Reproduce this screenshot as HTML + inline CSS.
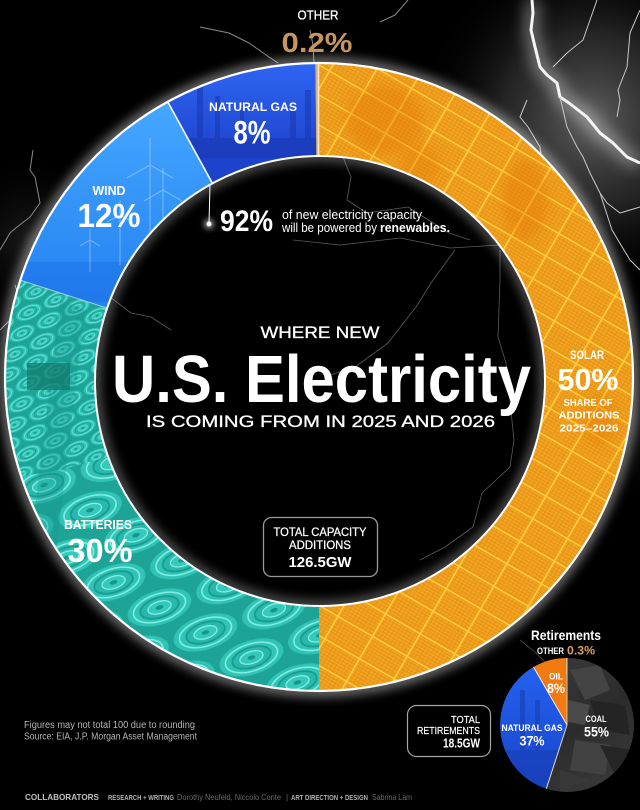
<!DOCTYPE html>
<html><head><meta charset="utf-8"><style>
html,body{margin:0;padding:0;background:#000;width:640px;height:810px;overflow:hidden;}
svg{display:block;overflow:hidden;}
text{font-family:"Liberation Sans",sans-serif;}
</style></head><body>
<svg width="640" height="810" viewBox="0 0 640 810" xmlns="http://www.w3.org/2000/svg">
<defs>
  <filter id="blur6" x="-30%" y="-30%" width="160%" height="160%"><feGaussianBlur stdDeviation="6"/></filter>
  <filter id="blur3" x="-50%" y="-50%" width="200%" height="200%"><feGaussianBlur stdDeviation="3"/></filter>
  <filter id="blur5" x="-50%" y="-50%" width="200%" height="200%"><feGaussianBlur stdDeviation="5"/></filter>
  <filter id="blur8" x="-50%" y="-50%" width="200%" height="200%"><feGaussianBlur stdDeviation="8"/></filter>
  <radialGradient id="haze" cx="590" cy="120" r="175" gradientUnits="userSpaceOnUse">
    <stop offset="0" stop-color="#6a6a6a" stop-opacity="0.9"/>
    <stop offset="0.5" stop-color="#3c3c3c" stop-opacity="0.6"/>
    <stop offset="1" stop-color="#000" stop-opacity="0"/>
  </radialGradient>
  <radialGradient id="haze2" cx="30" cy="240" r="90" gradientUnits="userSpaceOnUse">
    <stop offset="0" stop-color="#2e2e2e" stop-opacity="0.6"/>
    <stop offset="1" stop-color="#000" stop-opacity="0"/>
  </radialGradient>
  <radialGradient id="haze3" cx="625" cy="420" r="90" gradientUnits="userSpaceOnUse">
    <stop offset="0" stop-color="#2e2e2e" stop-opacity="0.6"/>
    <stop offset="1" stop-color="#000" stop-opacity="0"/>
  </radialGradient>
  <linearGradient id="windg" x1="0" y1="100" x2="0" y2="300" gradientUnits="userSpaceOnUse">
    <stop offset="0" stop-color="#45a8ff"/>
    <stop offset="1" stop-color="#2482f2"/>
  </linearGradient>
  <linearGradient id="gasg" x1="0" y1="60" x2="0" y2="160" gradientUnits="userSpaceOnUse">
    <stop offset="0" stop-color="#2f66f2"/>
    <stop offset="1" stop-color="#1d42cc"/>
  </linearGradient>
  <linearGradient id="pgas" x1="0" y1="660" x2="0" y2="790" gradientUnits="userSpaceOnUse">
    <stop offset="0" stop-color="#2563f0"/>
    <stop offset="1" stop-color="#1745c8"/>
  </linearGradient>
  <linearGradient id="pcoal" x1="540" y1="660" x2="620" y2="790" gradientUnits="userSpaceOnUse">
    <stop offset="0" stop-color="#3a3a3a"/>
    <stop offset="0.5" stop-color="#2c2c2c"/>
    <stop offset="1" stop-color="#3a3a3a"/>
  </linearGradient>
  <pattern id="solp" width="40" height="26" patternUnits="userSpaceOnUse" patternTransform="rotate(30)">
    <rect width="40" height="26" fill="#ec9a18"/>
    <path d="M0 3.25H40M0 6.5H40M0 9.75H40M0 13H40M0 16.25H40M0 19.5H40M0 22.75H40" stroke="#f5b035" stroke-width="0.7"/>
    <path d="M4 0V26M8 0V26M12 0V26M16 0V26M20 0V26M24 0V26M28 0V26M32 0V26M36 0V26" stroke="#e58e12" stroke-width="0.6"/>
    <path d="M0 0.8H40M0.8 0V26" stroke="#ffcc3a" stroke-width="1.6"/>
  </pattern>
  <g id="cell">
    <ellipse rx="33" ry="17" fill="#2fc4b6"/>
    <ellipse rx="27" ry="13.5" fill="none" stroke="#86eee2" stroke-width="1.6"/>
    <ellipse rx="20" ry="10" fill="#28b9ac" stroke="#1a998e" stroke-width="1.8"/>
    <ellipse rx="12" ry="6" fill="#33cabc" stroke="#90f2e7" stroke-width="1.2"/>
    <ellipse rx="4" ry="2" fill="#1a9489"/>
  </g>
  <pattern id="batp" width="72" height="76" patternUnits="userSpaceOnUse" patternTransform="rotate(-18)">
    <rect width="72" height="76" fill="#1ea397"/>
    <use href="#cell" x="36" y="19"/>
    <use href="#cell" x="0" y="57"/>
    <use href="#cell" x="72" y="57"/>
  </pattern>
  <pattern id="batp2" width="72" height="76" patternUnits="userSpaceOnUse" patternTransform="rotate(-25) scale(0.42)">
    <rect width="72" height="76" fill="#1ea397"/>
    <use href="#cell" x="36" y="19"/>
    <use href="#cell" x="0" y="57"/>
    <use href="#cell" x="72" y="57"/>
  </pattern>
  <clipPath id="ring"><path clip-rule="evenodd" d="M5,377 a314,314 0 1,0 628,0 a314,314 0 1,0 -628,0 Z M95,381 a225,225 0 1,0 450,0 a225,225 0 1,0 -450,0 Z"/></clipPath>
  <clipPath id="windc"><polygon points="319,377 0,273.4 0,0 111.7,0"/></clipPath>
  <clipPath id="gasc"><polygon points="319,377 111.7,0 314.4,0"/></clipPath>
  <clipPath id="solc"><rect x="319" y="0" width="321" height="810"/></clipPath>
  <clipPath id="batc"><polygon points="319,377 319,810 0,810 0,273.4"/></clipPath>
  <clipPath id="pgasc"><path d="M567,725 L546.3,788.7 A67,67 0 0 1 533.5,667 Z"/></clipPath>
  <clipPath id="pcoalc"><path d="M567,725 L567,658 A67,67 0 1 1 546.3,788.7 Z"/></clipPath>
</defs>

<rect width="640" height="810" fill="#000"/>

<!-- haze -->
<rect x="415" y="0" width="225" height="300" fill="url(#haze)"/>
<rect x="0" y="150" width="120" height="180" fill="url(#haze2)"/>
<rect x="540" y="330" width="100" height="180" fill="url(#haze3)"/>

<!-- hole -->
<circle cx="320" cy="381" r="225" fill="#000"/>

<!-- lightning outside -->
<g fill="none" stroke-linejoin="round">
  <path d="M532,0 L533,13 L531,30 L535,47 L540,67 L547,75 L557,83 L560,97 L569,103 L587,117 L600,133 L613,143 L627,157 L640,163" stroke="#fff" stroke-width="10" opacity="0.55" filter="url(#blur8)"/>
  <path d="M532,0 L533,13 L531,30 L535,47 L540,67 L547,75 L557,83 L560,97 L569,103 L587,117 L600,133 L613,143 L627,157 L640,163" stroke="#f4f4f4" stroke-width="3"/>
  <g stroke="#c8c8c8" stroke-width="1">
    <path d="M553,67 L567,53 L583,40 L590,20 L597,0"/>
    <path d="M640,10 L630,33 L627,67 L618,90 L620,100 L617,117"/>
    <path d="M560,97 L567,127 L577,147 L583,157 L590,173 L600,193 L607,203 L620,213 L640,207"/>
    <path d="M527,100 L520,117 L528,127 L540,147 L543,167"/>
    <path d="M600,193 L612,230 L630,260 L640,270"/>
    <path d="M615,300 L625,330 L620,360 L632,390"/>
  </g>
  <g stroke="#8a8a8a" stroke-width="1">
    <path d="M0,250 L10,233 L17,227 L30,217 L40,203 L35,177 L30,170 L33,150"/>
    <path d="M0,330 L12,318 L20,300 L15,285"/>
    <path d="M200,27 L229,33 L249,43 L269,57 L278,63"/>
    <path d="M310,30 L313,45 L314,63"/>
    <path d="M408,0 L395,15 L380,22"/>
  </g>
  <!-- inside hole -->
  <g stroke="#7a7a7a" stroke-width="0.8" opacity="0.75">
    <path d="M343,157 L351,177 L347,200 L367,213 L408,207 L449,233 L470,240"/>
    <path d="M455,250 L433,280 L416,307 L388,343 L355,367 L330,375"/>
    <path d="M500,250 L500,280 L498,337 L506,363 L514,440 L510,467 L482,493 L473,527 L445,547 L420,560"/>
    <path d="M110,297 L131,313 L151,317 L171,330"/>
    <path d="M293,240 L340,245 L400,238 L450,248 L500,245"/>
  </g>
</g>

<!-- glows -->
<circle cx="319" cy="377" r="314" fill="none" stroke="#fff" stroke-width="6" opacity="0.85" filter="url(#blur6)"/>
<circle cx="320" cy="381" r="225" fill="none" stroke="#fff" stroke-width="5" opacity="0.7" filter="url(#blur6)"/>

<!-- ring segments -->
<g clip-path="url(#ring)">
  <!-- solar -->
  <rect x="319" y="0" width="321" height="810" fill="url(#solp)"/>
  <g clip-path="url(#solc)" filter="url(#blur5)">
    <ellipse cx="385" cy="120" rx="38" ry="34" fill="#e2700a" opacity="0.35"/>
    <ellipse cx="420" cy="165" rx="20" ry="20" fill="#e2700a" opacity="0.3"/>
    <ellipse cx="525" cy="200" rx="22" ry="40" fill="#e2700a" opacity="0.35"/>
    <ellipse cx="600" cy="420" rx="18" ry="25" fill="#e2700a" opacity="0.3"/>
  </g>
  <!-- batteries -->
  <polygon points="319,377 319,810 0,810 0,273.4" fill="url(#batp)"/>
  <g clip-path="url(#batc)">
    <polygon points="0,260 130,300 115,455 60,470 0,480" fill="url(#batp2)"/>
    <polygon points="60,300 85,310 55,560 30,550" fill="#17968b" opacity="0.35"/>
    <rect x="27" y="363" width="43" height="27" fill="#10786a" opacity="0.7"/>
  </g>
  <!-- wind -->
  <polygon points="319,377 0,273.4 0,0 111.7,0" fill="url(#windg)"/>
  <g clip-path="url(#windc)">
    <rect x="0" y="262" width="220" height="40" fill="#1a6be0" opacity="0.4"/>
    <g stroke="#ffffff" stroke-opacity="0.3" stroke-width="1.2" fill="none">
      <path d="M150,165 V250 M150,165 L150,138 M150,165 L127,178 M150,165 L173,178"/>
      <path d="M163,190 V262 M163,190 L163,168 M163,190 L144,201 M163,190 L182,201"/>
      <path d="M120,215 V265 M120,215 L120,200 M120,215 L107,222 M120,215 L133,222"/>
      <path d="M90,240 V272 M90,240 L90,229 M90,240 L80,246 M90,240 L100,246"/>
    </g>
  </g>
  <!-- natural gas -->
  <polygon points="319,377 111.7,0 314.4,0" fill="url(#gasg)"/>
  <g clip-path="url(#gasc)" fill="#1a3ab2" opacity="0.6">
    <rect x="197" y="82" width="6" height="75"/>
    <rect x="215" y="96" width="5" height="60"/>
    <rect x="240" y="105" width="4" height="50"/>
    <rect x="290" y="110" width="6" height="45"/>
    <rect x="305" y="90" width="6" height="65"/>
    <rect x="185" y="138" width="135" height="20"/>
  </g>
  <!-- other -->
  <polygon points="319,377 314.4,0 319,0" fill="#d9b07c"/>
  <!-- separators -->
  <line x1="167.7" y1="101.8" x2="215" y2="188" stroke="#fff" stroke-width="1.6"/>
  <line x1="20" y1="280" x2="110" y2="309" stroke="#e8f4ff" stroke-width="1" opacity="0.6"/>
  <line x1="318.5" y1="55" x2="318.5" y2="160" stroke="#f4e6c8" stroke-width="1.6"/>
</g>

<!-- ring edges -->
<circle cx="319" cy="377" r="314" fill="none" stroke="#fff" stroke-width="2.2"/>
<circle cx="320" cy="381" r="225" fill="none" stroke="#fff" stroke-width="2"/>

<!-- 92% pointer -->
<line x1="210" y1="184" x2="209" y2="224" stroke="#fff" stroke-width="1"/>
<circle cx="209" cy="224" r="5" fill="#fff" opacity="0.6" filter="url(#blur3)"/>
<circle cx="209" cy="224" r="2.5" fill="#fff"/>

<!-- ring texts -->
<g fill="#fff">
  <text x="318" y="19.5" font-size="13" text-anchor="middle" textLength="41" lengthAdjust="spacingAndGlyphs" stroke="#fff" stroke-width="0.3">OTHER</text>
  <text x="317" y="52" font-size="28" font-weight="700" text-anchor="middle" fill="#c8955c" textLength="71" lengthAdjust="spacingAndGlyphs">0.2%</text>
  <text x="253" y="111" font-size="12" font-weight="700" text-anchor="middle" textLength="88" lengthAdjust="spacingAndGlyphs">NATURAL GAS</text>
  <text x="252" y="143.5" font-size="32" font-weight="700" text-anchor="middle" textLength="37" lengthAdjust="spacingAndGlyphs">8%</text>
  <text x="109" y="195" font-size="13" font-weight="700" text-anchor="middle" textLength="33" lengthAdjust="spacingAndGlyphs">WIND</text>
  <text x="109" y="227" font-size="33" font-weight="700" text-anchor="middle" textLength="63" lengthAdjust="spacingAndGlyphs">12%</text>
  <text x="220" y="231" font-size="30" font-weight="700" textLength="53" lengthAdjust="spacingAndGlyphs">92%</text>
  <text x="282" y="219" font-size="13" textLength="140" lengthAdjust="spacingAndGlyphs">of new electricity capacity</text>
  <text x="282" y="232" font-size="13" textLength="95" lengthAdjust="spacingAndGlyphs">will be powered by</text>
  <text x="380" y="232" font-size="13" font-weight="700" textLength="70" lengthAdjust="spacingAndGlyphs">renewables.</text>

  <text x="320" y="338" font-size="17" text-anchor="middle" textLength="119" lengthAdjust="spacingAndGlyphs" stroke="#fff" stroke-width="0.3">WHERE NEW</text>
  <text x="112" y="402" font-size="67" font-weight="700" textLength="419" lengthAdjust="spacingAndGlyphs">U.S. Electricity</text>
  <text x="146" y="427" font-size="17" textLength="349" lengthAdjust="spacingAndGlyphs" stroke="#fff" stroke-width="0.3">IS COMING FROM IN 2025 AND 2026</text>

  <text x="587" y="359" font-size="11.5" font-weight="700" text-anchor="middle" textLength="34" lengthAdjust="spacingAndGlyphs">SOLAR</text>
  <text x="588" y="390" font-size="31" font-weight="700" text-anchor="middle" textLength="61" lengthAdjust="spacingAndGlyphs">50%</text>
  <text x="588" y="406" font-size="10" font-weight="700" text-anchor="middle" textLength="49" lengthAdjust="spacingAndGlyphs">SHARE OF</text>
  <text x="589" y="418.5" font-size="10" font-weight="700" text-anchor="middle" textLength="61" lengthAdjust="spacingAndGlyphs">ADDITIONS</text>
  <text x="589" y="431.5" font-size="10" font-weight="700" text-anchor="middle" textLength="59" lengthAdjust="spacingAndGlyphs">2025–2026</text>

  <text x="98" y="529" font-size="13" font-weight="700" text-anchor="middle" textLength="68" lengthAdjust="spacingAndGlyphs">BATTERIES</text>
  <text x="100" y="562" font-size="33" font-weight="700" text-anchor="middle" textLength="65" lengthAdjust="spacingAndGlyphs">30%</text>
</g>

<!-- total capacity box -->
<rect x="263.5" y="517.5" width="114" height="59" rx="8" fill="#000" stroke="#9a9a9a" stroke-width="1.3"/>
<g fill="#fff" text-anchor="middle">
  <text x="320" y="536" font-size="12" textLength="93" lengthAdjust="spacingAndGlyphs" stroke="#fff" stroke-width="0.25">TOTAL CAPACITY</text>
  <text x="320" y="549" font-size="12" textLength="62" lengthAdjust="spacingAndGlyphs" stroke="#fff" stroke-width="0.25">ADDITIONS</text>
  <text x="320" y="567" font-size="15" font-weight="700" textLength="63" lengthAdjust="spacingAndGlyphs">126.5GW</text>
</g>

<!-- retirements pie -->
<path d="M567,725 L567,658 A67,67 0 1 1 546.3,788.7 Z" fill="url(#pcoal)"/>
<g clip-path="url(#pcoalc)">
  <polygon points="570,670 600,665 610,690 585,700" fill="#444"/>
  <polygon points="590,700 625,705 630,735 600,730" fill="#242424"/>
  <polygon points="575,740 610,745 605,775 570,770" fill="#424242"/>
  <polygon points="600,745 634,750 620,785" fill="#262626"/>
  <polygon points="568,700 590,705 585,725 568,722" fill="#4a4a4a"/>
  <polygon points="560,770 590,780 560,792" fill="#383838"/>
</g>
<path d="M567,725 L546.3,788.7 A67,67 0 0 1 533.5,667 Z" fill="url(#pgas)"/>
<g clip-path="url(#pgasc)" fill="#1a3fb5" opacity="0.6">
  <rect x="520" y="690" width="5" height="80"/>
  <rect x="535" y="700" width="5" height="70"/>
  <rect x="505" y="750" width="55" height="40"/>
</g>
<path d="M567,725 L533.5,667 A67,67 0 0 1 565.8,658 Z" fill="#f27a12"/>
<path d="M567,725 L565.8,658 A67,67 0 0 1 567.5,658 Z" fill="#d9b07c"/>
<line x1="567" y1="725" x2="546.3" y2="788.7" stroke="#ddd" stroke-width="1"/>
<line x1="567" y1="725" x2="533.5" y2="667" stroke="#eee" stroke-width="1"/>
<line x1="567" y1="658" x2="567" y2="725" stroke="#e8c890" stroke-width="1"/>
<path d="M520,640 L535,652 L545,662" stroke="#555" stroke-width="0.8" fill="none"/>

<g fill="#fff">
  <text x="566" y="640" font-size="14" font-weight="700" text-anchor="middle" textLength="70" lengthAdjust="spacingAndGlyphs">Retirements</text>
  <text x="537" y="654" font-size="9" font-weight="700" textLength="27" lengthAdjust="spacingAndGlyphs">OTHER</text>
  <text x="567" y="654.5" font-size="12" font-weight="700" fill="#d9a060" textLength="28" lengthAdjust="spacingAndGlyphs">0.3%</text>
  <text x="556" y="679.5" font-size="9" font-weight="700" text-anchor="middle" textLength="14" lengthAdjust="spacingAndGlyphs">OIL</text>
  <text x="556" y="693" font-size="14" font-weight="700" text-anchor="middle" textLength="18" lengthAdjust="spacingAndGlyphs">8%</text>
  <text x="532" y="731" font-size="9.5" font-weight="700" text-anchor="middle" textLength="61" lengthAdjust="spacingAndGlyphs">NATURAL GAS</text>
  <text x="532" y="745.5" font-size="14" font-weight="700" text-anchor="middle" textLength="25" lengthAdjust="spacingAndGlyphs">37%</text>
  <text x="596" y="722" font-size="9.5" font-weight="700" text-anchor="middle" textLength="21" lengthAdjust="spacingAndGlyphs">COAL</text>
  <text x="596.5" y="736.5" font-size="13.5" font-weight="700" text-anchor="middle" textLength="25" lengthAdjust="spacingAndGlyphs">55%</text>
</g>

<rect x="407.5" y="705.5" width="83" height="51" rx="9" fill="#000" stroke="#a5a5a5" stroke-width="1.2"/>
<g fill="#fff" text-anchor="end">
  <text x="480" y="723" font-size="10" textLength="29" lengthAdjust="spacingAndGlyphs" stroke="#fff" stroke-width="0.2">TOTAL</text>
  <text x="480" y="734" font-size="10" textLength="63" lengthAdjust="spacingAndGlyphs" stroke="#fff" stroke-width="0.2">RETIREMENTS</text>
  <text x="480" y="747.5" font-size="13" font-weight="700" textLength="37" lengthAdjust="spacingAndGlyphs">18.5GW</text>
</g>

<!-- footer -->
<text x="24" y="728" font-size="10" fill="#b5b5b5" textLength="171" lengthAdjust="spacingAndGlyphs">Figures may not total 100 due to rounding</text>
<text x="24" y="739.5" font-size="10" fill="#b5b5b5" textLength="173" lengthAdjust="spacingAndGlyphs">Source: EIA, J.P. Morgan Asset Management</text>
<text x="25" y="800" font-size="8.5" font-weight="700" fill="#c0c0c0" textLength="74" lengthAdjust="spacingAndGlyphs">COLLABORATORS</text>
<text x="108" y="800" font-size="7.5" font-weight="700" fill="#b0b0b0" textLength="66" lengthAdjust="spacingAndGlyphs">RESEARCH + WRITING</text>
<text x="177" y="800" font-size="8" fill="#6a6a6a" textLength="104" lengthAdjust="spacingAndGlyphs">Dorothy Neufeld, Niccolo Conte</text>
<text x="286" y="800" font-size="8" fill="#6a6a6a">|</text>
<text x="291" y="800" font-size="7.5" font-weight="700" fill="#b0b0b0" textLength="77" lengthAdjust="spacingAndGlyphs">ART DIRECTION + DESIGN</text>
<text x="372" y="800" font-size="8" fill="#6a6a6a" textLength="40" lengthAdjust="spacingAndGlyphs">Sabrina Lam</text>
</svg>
</body></html>
